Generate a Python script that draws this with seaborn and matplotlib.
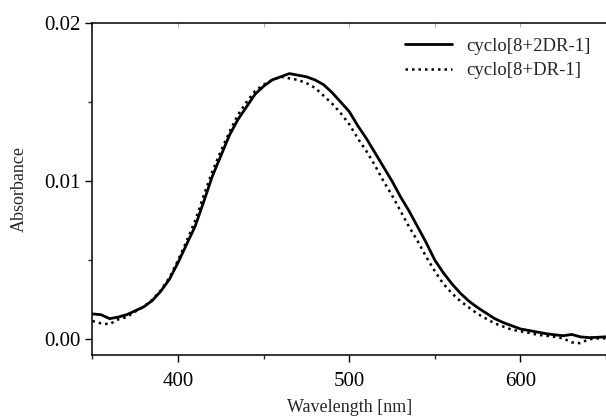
import numpy as np
import pandas as pd
import seaborn as sns
import matplotlib.pyplot as plt
from matplotlib.ticker import MultipleLocator, FormatStrFormatter

# longitudes de onda (nm)
wavelength = [350, 355, 360, 365, 370, 375, 380, 385, 390, 395,
              400, 405, 410, 415, 420, 425, 430, 435, 440, 445,
              450, 455, 460, 465, 470, 475, 480, 485, 490, 495,
              500, 505, 510, 515, 520, 525, 530, 535, 540, 545,
              550, 555, 560, 565, 570, 575, 580, 585, 590, 595,
              600, 605, 610, 615, 620, 625, 630, 635, 640, 645, 650]

# absorbancia x 1e-3
abs_2dr = [1.60, 1.55, 1.30, 1.40, 1.55, 1.80, 2.05, 2.45, 3.05, 3.80,
           4.85, 6.00, 7.15, 8.70, 10.3, 11.6, 12.9, 13.9, 14.7, 15.5,
           16.0, 16.4, 16.6, 16.8, 16.7, 16.6, 16.4, 16.1, 15.6, 15.0,
           14.4, 13.5, 12.7, 11.8, 10.9, 10.0, 9.0, 8.1, 7.1, 6.1,
           5.0, 4.2, 3.5, 2.9, 2.4, 2.0, 1.65, 1.30, 1.05, 0.85,
           0.65, 0.55, 0.45, 0.35, 0.28, 0.22, 0.30, 0.15, 0.10, 0.12, 0.15]

abs_dr = [1.15, 1.00, 0.95, 1.25, 1.40, 1.75, 2.05, 2.50, 3.10, 3.90,
          5.00, 6.20, 7.50, 9.10, 10.6, 11.9, 13.1, 14.2, 15.0, 15.7,
          16.1, 16.4, 16.6, 16.5, 16.4, 16.2, 15.9, 15.4, 14.9, 14.3,
          13.6, 12.7, 11.9, 11.0, 10.0, 9.1, 8.1, 7.1, 6.2, 5.2,
          4.3, 3.5, 2.9, 2.4, 2.0, 1.6, 1.3, 1.0, 0.8, 0.6,
          0.5, 0.4, 0.28, 0.22, 0.15, 0.05, -0.20, -0.25, 0.0, 0.05, 0.05]

labels = ["cyclo[8+2DR-1]", "cyclo[8+DR-1]"]

df = pd.DataFrame({"wl": wavelength,
                   "a1": np.array(abs_2dr) * 1e-3,
                   "a2": np.array(abs_dr) * 1e-3})

sns.set_style("ticks")
plt.rcParams["font.family"] = ["Liberation Serif", "DejaVu Serif"]

fig = plt.figure(figsize=(6.06, 4.19), dpi=100)
ax = fig.add_axes([0.1526, 0.1527, 0.8474, 0.7924])

sns.lineplot(data=df, x="wl", y="a1", ax=ax, color="black", lw=2.0,
             label=labels[0])
sns.lineplot(data=df, x="wl", y="a2", ax=ax, color="black", lw=1.8,
             linestyle=(0, (1, 1.6)), label=labels[1])

ax.set_xlim(350, 650)
ax.set_ylim(-0.001, 0.02)

ax.xaxis.set_major_locator(MultipleLocator(100))
ax.xaxis.set_minor_locator(MultipleLocator(50))
ax.yaxis.set_major_locator(MultipleLocator(0.01))
ax.yaxis.set_minor_locator(MultipleLocator(0.005))
ax.yaxis.set_major_formatter(FormatStrFormatter("%.2f"))

ax.tick_params(which="major", direction="out", length=5, width=1,
               labelsize=15, colors="black")
ax.tick_params(axis="x", which="major", pad=7)
ax.tick_params(which="minor", direction="out", length=3, width=1)
ax.tick_params(top=False, right=False)

for s in ["left", "bottom", "top"]:
    ax.spines[s].set_color("black")
    ax.spines[s].set_linewidth(1.1)
ax.spines["right"].set_visible(False)

# ticks pequeños hacia adentro en el borde superior
top = ax.secondary_xaxis("top")
top.xaxis.set_major_locator(MultipleLocator(50))
top.tick_params(direction="in", length=3, width=0.6, colors="#999999",
                labeltop=False)
top.spines["top"].set_visible(False)

ax.set_xlabel("Wavelength [nm]", fontsize=13, labelpad=6)
ax.set_ylabel("Absorbance", fontsize=13, labelpad=12)

leg = ax.legend(loc="upper right", bbox_to_anchor=(1.002, 1.006),
                frameon=False, fontsize=13.5, handlelength=2.5,
                handletextpad=0.75, labelspacing=0.38)

fig.savefig("out.png", dpi=100)
